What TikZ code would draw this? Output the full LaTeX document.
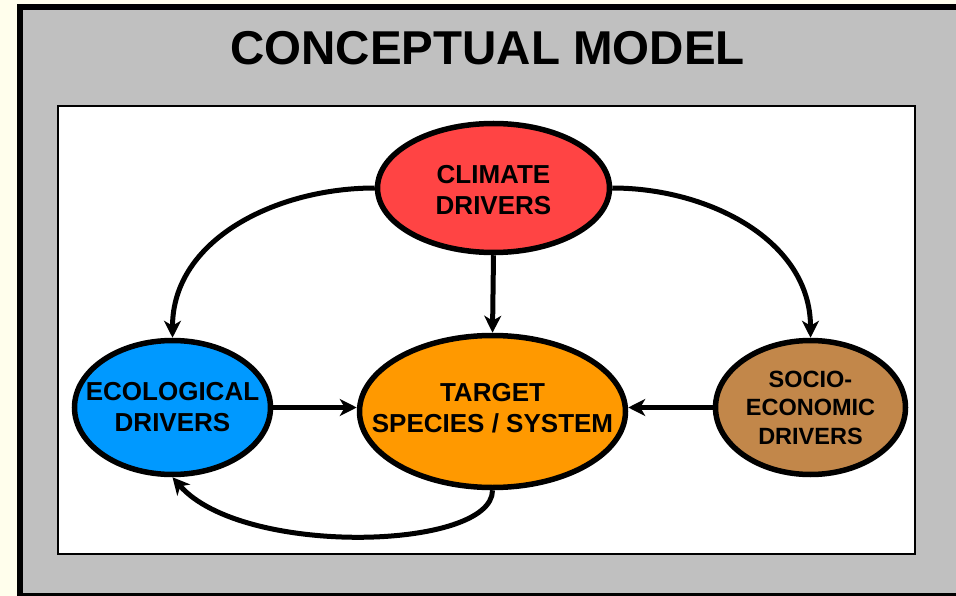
\documentclass[tikz,border=0pt]{standalone}
\usepackage{fontspec}
\setmainfont{Liberation Sans}
\usetikzlibrary{shapes.geometric,arrows.meta}
\definecolor{bgyellow}{HTML}{FFFEEC}
\definecolor{panelgray}{HTML}{C0C0C0}
\definecolor{climred}{HTML}{FF4444}
\definecolor{ecoblue}{HTML}{0099FF}
\definecolor{targorange}{HTML}{FF9900}
\definecolor{sociobrown}{HTML}{C2874A}
\tikzset{
  bubble/.style={ellipse, draw=black, line width=5.5pt, inner sep=0pt},
  bubbletext/.style={align=center, inner sep=0pt, font=\bfseries\fontsize{26}{31}\selectfont},
  link/.style={line width=5pt, -{Stealth[length=17pt,width=17pt,inset=5pt]}},
}
\begin{document}
\begin{tikzpicture}[x=1pt,y=-1pt]
\useasboundingbox (0,0) rectangle (956,596);
\clip (0,0) rectangle (956,596);
\fill[bgyellow] (0,0) rectangle (956,596);
\draw[fill=panelgray, line width=6pt] (20,7) rectangle (990,596);
\draw[fill=white, line width=2pt] (58,106) rectangle (915,554);
\node[anchor=base, font=\bfseries\fontsize{47.5}{57}\selectfont] (title) at (487.5,65) {CONCEPTUAL MODEL};
\node[bubble, fill=climred, minimum width=232pt, minimum height=129pt,
  label={[bubbletext, yshift=-2pt]center:CLIMATE\\DRIVERS}] (clim) at (493.5,188) {};
\node[bubble, fill=ecoblue, minimum width=196pt, minimum height=134pt,
  label={[bubbletext]center:ECOLOGICAL\\DRIVERS}] (eco) at (172.5,407.5) {};
\node[bubble, fill=targorange, minimum width=266pt, minimum height=152pt,
  label={[bubbletext, yshift=3pt]center:TARGET\\SPECIES / SYSTEM}] (targ) at (492.5,411.5) {};
\node[bubble, fill=sociobrown, minimum width=190pt, minimum height=134pt,
  label={[bubbletext, font=\bfseries\fontsize{23.5}{28.5}\selectfont]center:SOCIO-\\ECONOMIC\\DRIVERS}] (socio) at (810.5,407.5) {};
\draw[link] (clim.west) to[out=180,in=90] (eco.north);
\draw[link] (clim.east) to[out=0,in=90] (socio.north);
\draw[link] (clim.south) -- (targ.north);
\draw[link] (eco.east) -- (targ.west |- eco.east);
\draw[link] (socio.west) -- (targ.east |- socio.west);
\draw[link] (targ.south) .. controls +(0,60) and +(70,80) .. (eco.south);
\end{tikzpicture}
\end{document}
